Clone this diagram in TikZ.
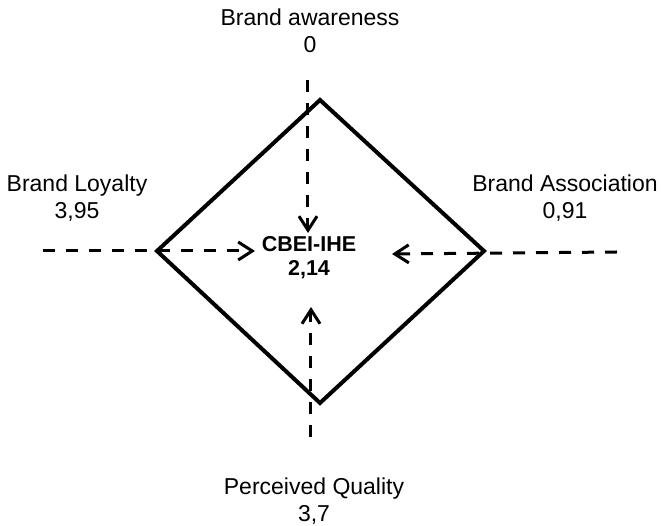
\documentclass[tikz,border=0pt]{standalone}
\usepackage{fontspec}
\setmainfont{Liberation Sans}
\usetikzlibrary{arrows.meta}
\begin{document}
\begin{tikzpicture}[x=1pt,y=1pt,
    every node/.style={align=center,font=\fontsize{23}{27}\selectfont},
    edge/.style={line width=4pt,line join=miter},
    feed/.style={line width=3pt,dash pattern=on 12pt off 11pt,
      -{Straight Barb[length=14pt,width=18pt]}}]
  \useasboundingbox (-320,-275) rectangle (341,251);
  % labels
  \draw
    (-10,220) node (aw){Brand awareness\\0}
    (-243,53) node (lo){Brand Loyalty\\3,95}
    (245,53) node (as){Brand Association\\0,91}
    (-6,-250) node (pq){Perceived Quality\\3,7}
    (-11,-7) node[font=\fontsize{21.5}{24}\selectfont\bfseries] (c){CBEI-IHE\\2,14};
  % diamond
  \draw
    (0,151) coordinate (t)
    (164,0) coordinate (r)
    (0,-152) coordinate (b)
    (-163,0) coordinate (l);
  \draw[edge] (t) -- (r) -- (b) -- (l) -- cycle;
  % dashed feeds
  \coordinate (aw0) at (-12,171);
  \coordinate (aw1) at (-12,18);
  \coordinate (lo0) at (-277,0);
  \coordinate (lo1) at (-65,0);
  \coordinate (as0) at (297,-1);
  \coordinate (as1) at (72,-3);
  \coordinate (pq0) at (-9,-186);
  \coordinate (pq1) at (-9,-56);
  \begin{scope}
    \draw[feed] (aw0) to (aw1);
    \draw[feed] (lo0) to (lo1);
    \draw[feed] (as0) to (as1);
    \draw[feed] (pq0) to (pq1);
  \end{scope}
\end{tikzpicture}
\end{document}
